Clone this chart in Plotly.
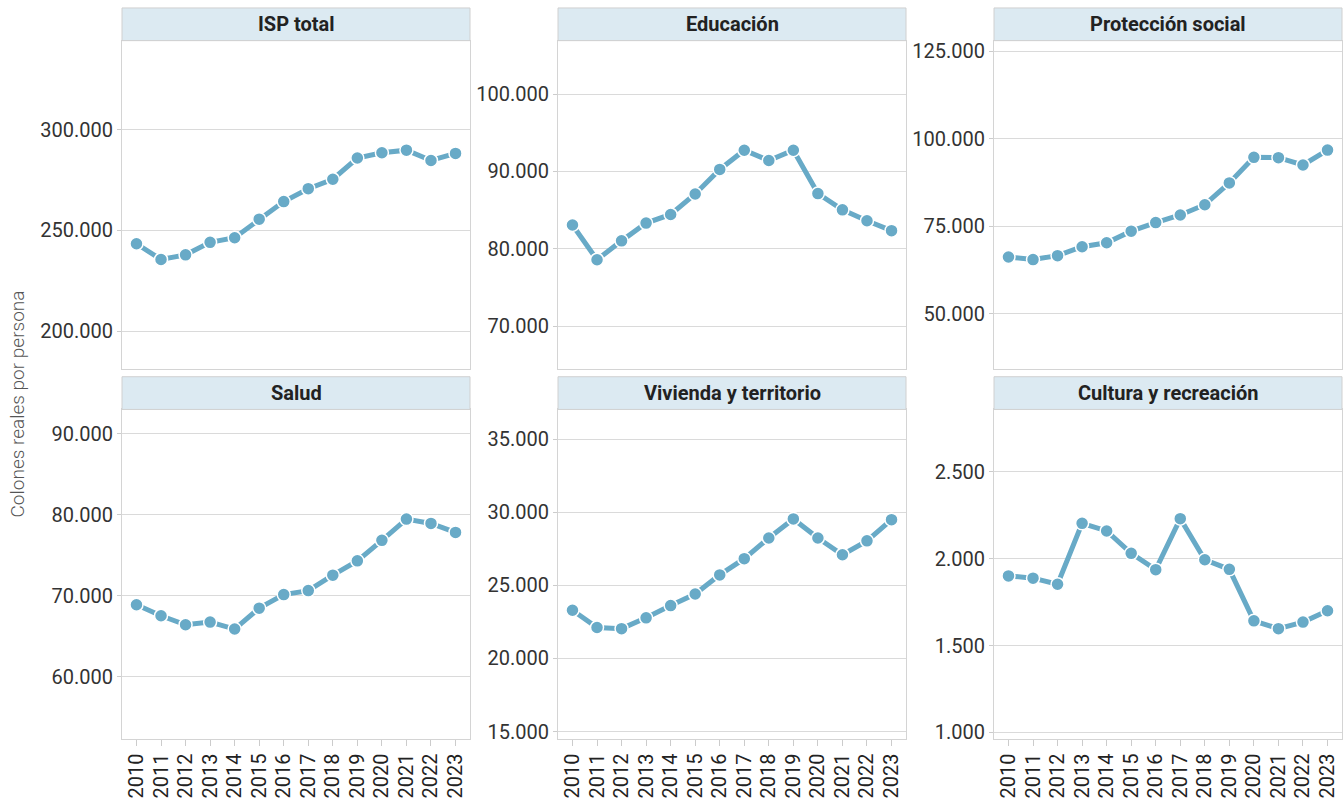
import plotly.graph_objects as go

# años
anios = list(range(2010, 2024))

# series (colones reales por persona)
isp_total = [243400, 235600, 237900, 244100, 246400, 255600, 264300,
             270700, 275400, 285900, 288500, 289800, 284700, 288200]
educacion = [83080, 78590, 81030, 83330, 84440, 87090, 90260,
             92740, 91410, 92740, 87140, 85040, 83630, 82350]
proteccion = [66200, 65450, 66580, 69140, 70270, 73580, 76040,
              78220, 81150, 87390, 94700, 94610, 92530, 96780]
salud = [68900, 67550, 66440, 66770, 65910, 68490, 70160,
         70650, 72560, 74320, 76850, 79470, 78940, 77830]
vivienda = [23300, 22120, 22040, 22780, 23620, 24410, 25720,
            26830, 28240, 29550, 28240, 27100, 28050, 29500]
cultura = [1901, 1888, 1853, 2204, 2160, 2031, 1937,
           2231, 1994, 1939, 1642, 1597, 1635, 1700]

titulos = ['ISP total', 'Educación', 'Protección social',
           'Salud', 'Vivienda y territorio', 'Cultura y recreación']
series = [isp_total, educacion, proteccion, salud, vivienda, cultura]
rangos = [[181400, 344100], [64500, 106900], [34200, 128100],
          [52400, 93000], [14520, 37040], [964, 2860]]
pasos = [50000, 10000, 25000, 10000, 5000, 500]

W, H = 1343, 809
color = '#68aac7'
fuente = 'Roboto'

# posiciones de los paneles en pixeles
cols = [(122, 470), (558, 906), (994, 1342)]
filas = [(7, 40, 371), (379, 412, 744)]

fig = go.Figure()
shapes = []
annotations = []

for i in range(6):
    f = i // 3
    c = i % 3
    n = str(i + 1)
    x0, x1 = cols[c]
    top_strip, top_plot, bottom = filas[f]

    fig.add_trace(go.Scatter(
        x=anios, y=series[i], mode='lines+markers',
        line=dict(color=color, width=5),
        marker=dict(size=13, color=color, line=dict(color='white', width=1.5)),
        xaxis='x' + n, yaxis='y' + n, showlegend=False))

    fig.layout['xaxis' + n] = dict(
        domain=[x0 / W, x1 / W], anchor='y' + n,
        range=[2009.41, 2023.59], tickvals=anios,
        showticklabels=(f == 1), tickangle=-90,
        ticks='outside' if f == 1 else '', ticklen=6, tickcolor='#cccccc',
        showgrid=False, zeroline=False,
        showline=True, mirror=True, linecolor='#d4d4d4', linewidth=1,
        tickfont=dict(family=fuente, size=20, color='#222222'))
    fig.layout['yaxis' + n] = dict(
        domain=[1 - bottom / H, 1 - top_plot / H], anchor='x' + n,
        range=rangos[i], dtick=pasos[i], tick0=0, tickformat=',d',
        ticks='outside', ticklen=4, tickcolor='#cccccc',
        showgrid=True, gridcolor='#dadada', gridwidth=1, zeroline=False,
        showline=True, mirror=True, linecolor='#d4d4d4', linewidth=1,
        tickfont=dict(family=fuente, size=20, color='#333333'))

    # franja del título
    shapes.append(dict(type='rect', xref='paper', yref='paper',
                       x0=x0 / W, x1=x1 / W,
                       y0=1 - top_plot / H, y1=1 - top_strip / H,
                       fillcolor='#dceaf2', line=dict(color='#d0d0d0', width=1)))
    annotations.append(dict(text='<b>' + titulos[i] + '</b>', xref='paper', yref='paper',
                            x=(x0 + x1) / 2 / W, y=1 - (top_strip + top_plot) / 2 / H,
                            xanchor='center', yanchor='middle', showarrow=False,
                            font=dict(family=fuente, size=20, color='#222222')))

annotations.append(dict(text='Colones reales por persona', xref='paper', yref='paper',
                        x=17 / W, y=1 - 407 / H, textangle=-90, showarrow=False,
                        xanchor='center', yanchor='middle',
                        font=dict(family=fuente, size=19, color='#555555', weight=300)))

fig.update_layout(width=W, height=H, margin=dict(l=0, r=0, t=0, b=0),
                  paper_bgcolor='white', plot_bgcolor='white',
                  separators=',.', shapes=shapes, annotations=annotations)

# la página mide justo lo que la figura, sin márgenes ni scroll
css = "margin:0;padding:0;overflow:hidden;height:%dpx;" % H
fig.write_html('out.html', config={'displayModeBar': False},
               post_script="document.documentElement.style.cssText='%s';"
                           "document.body.style.cssText='%s';" % (css, css))
